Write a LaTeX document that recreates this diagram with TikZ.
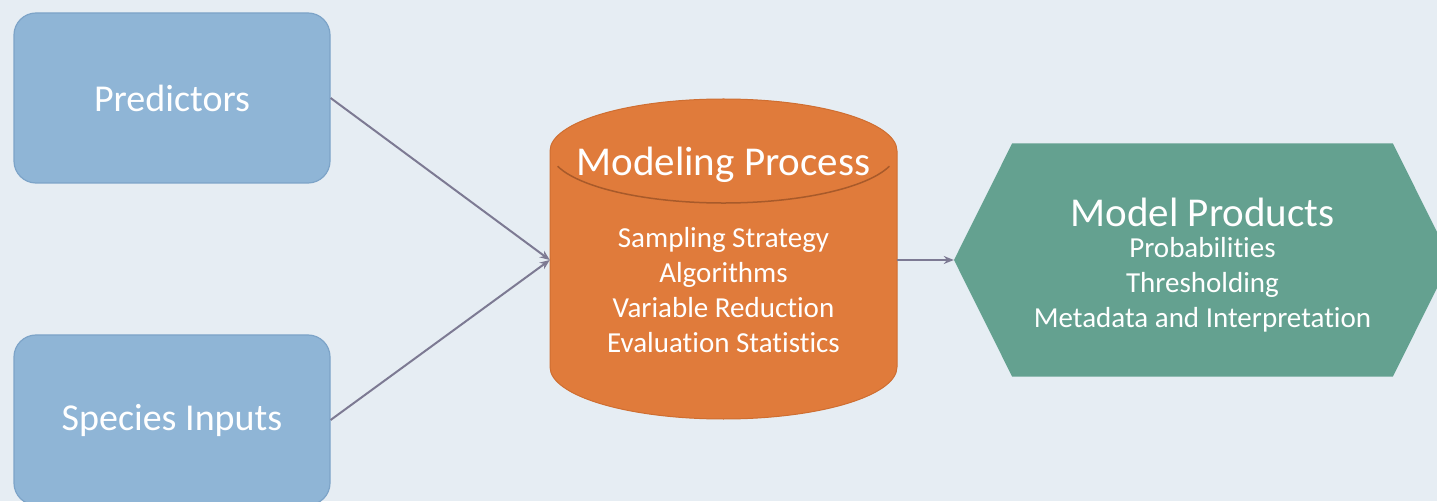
\documentclass[tikz,border=0pt]{standalone}
\usepackage{fontspec}
\setmainfont{Carlito}[Ligatures=NoCommon]
\usetikzlibrary{arrows.meta,shapes.symbols}

\definecolor{bgcol}{HTML}{E6EDF3}
\definecolor{infill}{HTML}{8FB5D6}
\definecolor{inedge}{HTML}{7DA4C8}
\definecolor{procfill}{HTML}{E07B3B}
\definecolor{procedge}{HTML}{CF6E31}
\definecolor{capline}{HTML}{A85A2A}
\definecolor{prodfill}{HTML}{64A190}
\definecolor{linkcol}{HTML}{7D7A93}

\tikzset{
    inbox/.style={shape=rectangle,rounded corners=22pt,draw=inedge,line width=1.2pt,fill=infill,
        minimum width=316pt,minimum height=170pt,text=white,font=\fontsize{38}{42}\selectfont},
    title/.style={text=white,font=\fontsize{41}{46}\selectfont,inner sep=0pt},
    items/.style={text=white,align=center,font=\fontsize{29}{35}\selectfont,inner sep=0pt},
    link/.style={draw=linkcol,line width=2pt,-{Stealth[length=10pt,width=8pt]}}
}

\begin{document}
\begin{tikzpicture}[x=1pt,y=1pt]

        \useasboundingbox (0,0) rectangle (1437,501);
        \fill[bgcol] (0,0) rectangle (1437,501);

        % cylinder body and cap
        \fill[procfill,draw=procedge,line width=1pt] (550,350) -- (550,134)
            arc[start angle=180,end angle=360,x radius=173.5,y radius=52] -- (897,350)
            arc[start angle=0,end angle=180,x radius=173.5,y radius=52] -- cycle;
        \draw[capline,line width=1.5pt] (557.6,334.8) arc[start angle=197,end angle=343,x radius=173.5,y radius=52];

        \node[inbox] (pred) at (172, 403) {Predictors};
        \node[inbox] (spec) at (172, 81) {Species Inputs};

        \node[minimum width=347pt,minimum height=320pt,inner sep=0pt] (proc) at (723.5, 241) {};
        \node[title] (proctitle) at (723.5, 336) {Modeling Process};
        \node[items] (procitems) at (723.5, 211) {Sampling Strategy\\Algorithms\\Variable Reduction\\Evaluation Statistics};

        \node[shape=signal,signal to=west and east,signal pointer angle=127,fill=prodfill,
            minimum width=497pt,minimum height=233pt,inner sep=0pt] (prod) at (1202.5, 241) {};
        \node[title] (prodtitle) at (1202.5, 289) {Model Products};
        \node[items] (proditems) at (1202.5, 216) {Probabilities\\Thresholding\\Metadata and Interpretation};

        \draw[link] (pred.east) -- (proc.west);
        \draw[link] (spec.east) -- (proc.west);
        \draw[link] (proc.east) -- (prod.west);

    \end{tikzpicture}
\end{document}
